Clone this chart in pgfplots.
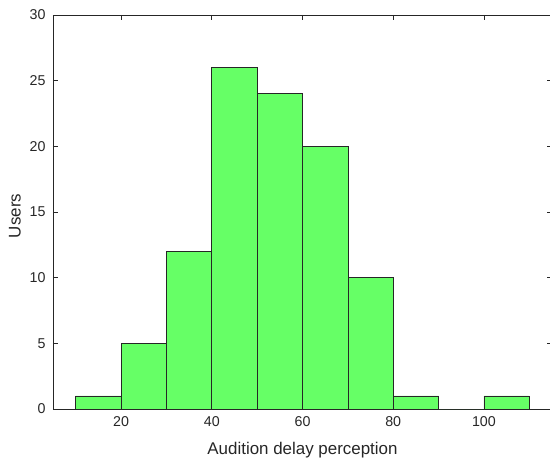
\documentclass[border=0pt]{standalone}
\usepackage{pgfplots}
\pgfplotsset{compat=1.18}
\usepackage{fontspec}
\setmainfont{Liberation Sans}
\definecolor{axc}{RGB}{38,38,38}
\definecolor{barg}{RGB}{102,255,102}
\begin{document}
\begin{tikzpicture}
\begin{axis}[
  name=ax,
  scale only axis,
  width=499bp, height=394bp,
  xmin=5, xmax=115, ymin=0, ymax=30,
  xtick={20,40,60,80,100},
  ytick={0,5,10,15,20,25,30},
  tick align=inside,
  major tick length=5bp,
  axis line style={axc, line width=0.6pt},
  every tick/.style={axc, line width=0.6pt},
  tick label style={font=\fontsize{14.3}{16}\selectfont, text=axc},
  xticklabel style={yshift=-4bp},
  yticklabel style={xshift=-4bp},
  /pgf/number format/assume math mode=true,
  xlabel={Audition delay perception},
  ylabel={Users},
  every axis x label/.style={at={(axis description cs:0.5,-0.1041)}, anchor=center, font=\fontsize{17}{19}\selectfont, text=axc},
  every axis y label/.style={at={(axis description cs:-0.0762,0.49)}, rotate=90, anchor=center, font=\fontsize{17}{19}\selectfont, text=axc},
]
\addplot[ybar interval, fill=barg, draw=black!85, line width=0.6pt]
  coordinates {(10,1) (20,5) (30,12) (40,26) (50,24) (60,20) (70,10) (80,1) (90,0) (100,1) (110,0)};
\end{axis}
\pgfresetboundingbox
\path[use as bounding box] ([shift={(-53bp,-51bp)}]ax.south west) rectangle ([shift={(497bp,409bp)}]ax.south west);
\end{tikzpicture}
\end{document}
